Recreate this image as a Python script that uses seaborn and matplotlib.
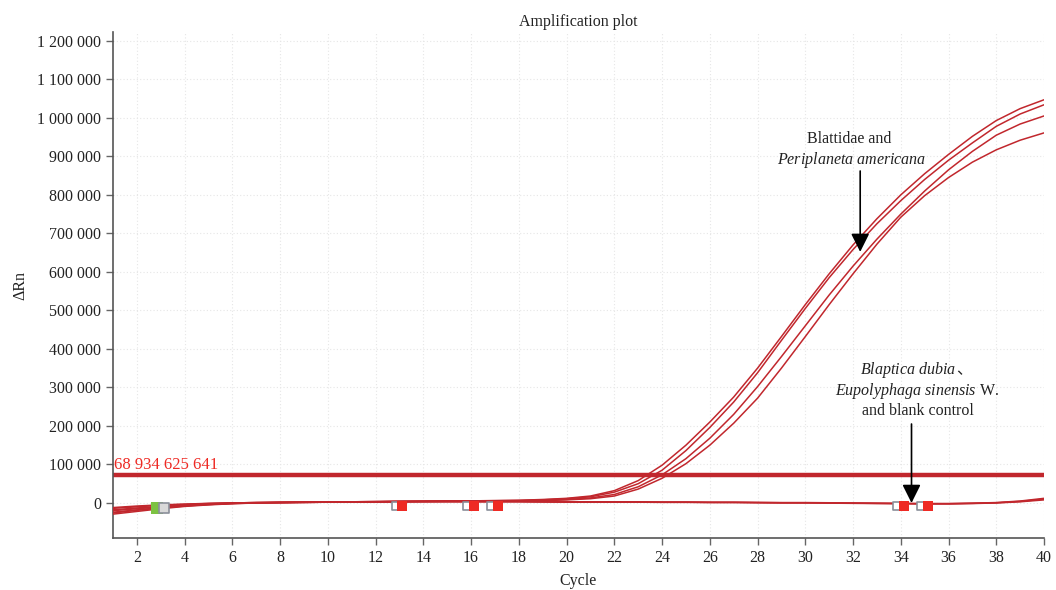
import numpy as np
import pandas as pd
import matplotlib
matplotlib.use("Agg")
import matplotlib.pyplot as plt
import seaborn as sns

cycles = list(range(1, 41))

# amplification curves (ΔRn)
curve_a = [-12000, -8000, -5000, -3000, -1000, 0, 1000, 1500, 2000, 2500, 3000, 3500, 4000, 4500, 5000, 5500,
           6000, 7000, 9000, 12000, 18000, 32000, 58000, 98000, 150000, 210000, 275000, 350000, 432000, 515000,
           595000, 670000, 738000, 800000, 855000, 905000, 952000, 993000, 1024000, 1047000]
curve_b = [-18000, -13000, -9000, -5000, -2000, 0, 1000, 1500, 2000, 2500, 3000, 3500, 4000, 4500, 5000, 5500,
           6000, 6500, 8000, 11000, 16000, 28000, 50000, 85000, 136000, 196000, 262000, 338000, 422000, 505000,
           585000, 658000, 725000, 785000, 840000, 890000, 935000, 978000, 1010000, 1034000]
curve_c = [-24000, -18000, -12000, -7000, -4000, -1000, 500, 1000, 1500, 2000, 2500, 3000, 3500, 4000, 4500, 5000,
           5000, 5500, 6500, 9000, 13000, 22000, 42000, 73000, 115000, 168000, 230000, 302000, 380000, 460000,
           540000, 615000, 685000, 750000, 810000, 865000, 913000, 955000, 984000, 1005000]
curve_d = [-29000, -22000, -15000, -9000, -5000, -2000, 0, 1000, 1500, 2000, 2500, 3000, 3500, 4000, 4500, 4500,
           5000, 5000, 6000, 8000, 11000, 18000, 36000, 64000, 102000, 150000, 207000, 272000, 350000, 432000,
           515000, 595000, 672000, 742000, 798000, 845000, 885000, 917000, 942000, 961000]
# negative samples (flat)
flat_1 = [-14000, -10000, -6000, -3500, -1500, 0, 1000, 1500, 2000, 2500, 3000, 3500, 4000, 4000, 4000, 4000,
          4000, 4000, 3500, 3000, 3000, 3000, 3000, 2500, 2500, 2000, 2000, 1500, 1000, 1000,
          500, 0, -500, -1000, -1500, -1500, -500, 1000, 5000, 12000]
flat_2 = [-20000, -15000, -10000, -6000, -3000, -1000, 500, 1000, 1500, 2000, 2500, 3000, 3500, 3500, 3500, 3500,
          3500, 3500, 3000, 2500, 2500, 2500, 2500, 2000, 2000, 1500, 1500, 1000, 500, 500,
          0, -500, -1000, -1500, -2000, -2000, -1000, 500, 4000, 10000]
flat_3 = [-26000, -19000, -13000, -8000, -4000, -1500, 0, 1000, 1500, 2000, 2500, 3000, 3000, 3000, 3000, 3000,
          3000, 3000, 2500, 2000, 2000, 2000, 2000, 1500, 1500, 1000, 1000, 500, 0, 0,
          -500, -1000, -1500, -2000, -2500, -2500, -1500, 0, 3000, 8000]

threshold = 73000
threshold_label = "68 934 625 641"

# baseline / Ct markers
green_x, green_y = [2.85], [-12000]
grey_x, grey_y = [3.12], [-12000]
white_x = [12.85, 15.85, 16.85, 33.85, 34.85]
red_x = [13.12, 16.12, 17.12, 34.12, 35.12]
marker_y = [-7000, -7000, -7000, -7000, -7000]

yticks = [0, 100000, 200000, 300000, 400000, 500000, 600000, 700000, 800000, 900000, 1000000, 1100000, 1200000]
xticks = list(range(2, 41, 2))

sns.set_theme(style="white")
plt.rcParams["font.family"] = ["Liberation Serif", "Noto Sans CJK SC"]
plt.rcParams["mathtext.fontset"] = "custom"
plt.rcParams["mathtext.it"] = "Liberation Serif:italic"
plt.rcParams["mathtext.rm"] = "Liberation Serif"

FS = 11.5
fig = plt.figure(figsize=(10.56, 5.9), dpi=100)
ax = fig.add_axes([113 / 1056, 1 - 538 / 590, (1044 - 113) / 1056, (538 - 32) / 590])

line_color = "#c1272d"
rows = []
for name, vals in [("a", curve_a), ("b", curve_b), ("c", curve_c), ("d", curve_d),
                   ("f1", flat_1), ("f2", flat_2), ("f3", flat_3)]:
    for c, v in zip(cycles, vals):
        rows.append({"sample": name, "Cycle": c, "dRn": v})
df = pd.DataFrame(rows)

ax.axhline(threshold, color="#c1272d", lw=3.2, zorder=2)
sns.lineplot(data=df, x="Cycle", y="dRn", units="sample", estimator=None, color=line_color,
             lw=1.1, ax=ax, zorder=3)

ax.scatter(green_x, green_y, marker="s", s=70, color="#7cc242", zorder=5, linewidths=0)
ax.scatter(grey_x, grey_y, marker="s", s=45, facecolor="#d9d9d9", edgecolor="#8a8f9a", zorder=5, linewidths=1.2)
ax.scatter(white_x, marker_y, marker="s", s=30, facecolor="white", edgecolor="#8a8f9a", zorder=5, linewidths=1.2)
ax.scatter(red_x, marker_y, marker="s", s=42, color="#ee2a24", zorder=6, linewidths=0)

ax.set_xlim(1, 40)
ax.set_ylim(-91000, 1223000)
ax.set_xticks(xticks)
ax.set_yticks(yticks)
ax.set_yticklabels(["{:,}".format(v).replace(",", " ") for v in yticks])
ax.grid(True, color="#e6e6e6", linestyle=(0, (1, 2)), lw=0.8)
ax.set_axisbelow(True)

for s in ["top", "right"]:
    ax.spines[s].set_visible(False)
for s in ["left", "bottom"]:
    ax.spines[s].set_color("#555555")
    ax.spines[s].set_linewidth(1.2)
ax.tick_params(axis="both", which="both", length=5, width=1, color="#666666",
               labelsize=FS, labelcolor="#222222", direction="out", left=True, bottom=True)

ax.set_xlabel("Cycle", fontsize=FS, color="#222222", labelpad=5)
ax.set_ylabel("ΔRn", fontsize=FS, color="#222222", labelpad=6)
ax.set_title("Amplification plot", fontsize=FS, color="#222222", pad=4)

ax.text(1.05, threshold + 6000, threshold_label, color="#ee2a24", fontsize=FS + 0.5, va="bottom", ha="left")

# annotations
ax.text(31.85, 945000, "Blattidae and", fontsize=FS, ha="center", va="center", color="#222222")
ax.text(31.95, 890000, r"$\mathit{Periplaneta\ americana}$", fontsize=FS, ha="center", va="center", color="#222222")
ax.annotate("", xy=(32.3, 652000), xytext=(32.3, 862000),
            arrowprops=dict(arrowstyle="-|>", color="black", lw=1.2, mutation_scale=28,
                            shrinkA=0, shrinkB=0))

ax.text(36.3, 345000, r"$\mathit{Blaptica\ dubia}$", fontsize=FS, ha="right", va="center", color="#222222")
ax.text(36.3, 345000, "、", fontsize=FS, ha="left", va="center", color="#222222",
        family=["Noto Sans CJK SC"])
ax.text(34.7, 290000, r"$\mathit{Eupolyphaga\ sinensis}$ W.", fontsize=FS, ha="center", va="center", color="#222222")
ax.text(34.7, 238000, "and blank control", fontsize=FS, ha="center", va="center", color="#222222")
ax.annotate("", xy=(34.45, 0), xytext=(34.45, 205000),
            arrowprops=dict(arrowstyle="-|>", color="black", lw=1.2, mutation_scale=28,
                            shrinkA=0, shrinkB=0))

fig.savefig("out.png", dpi=100)
